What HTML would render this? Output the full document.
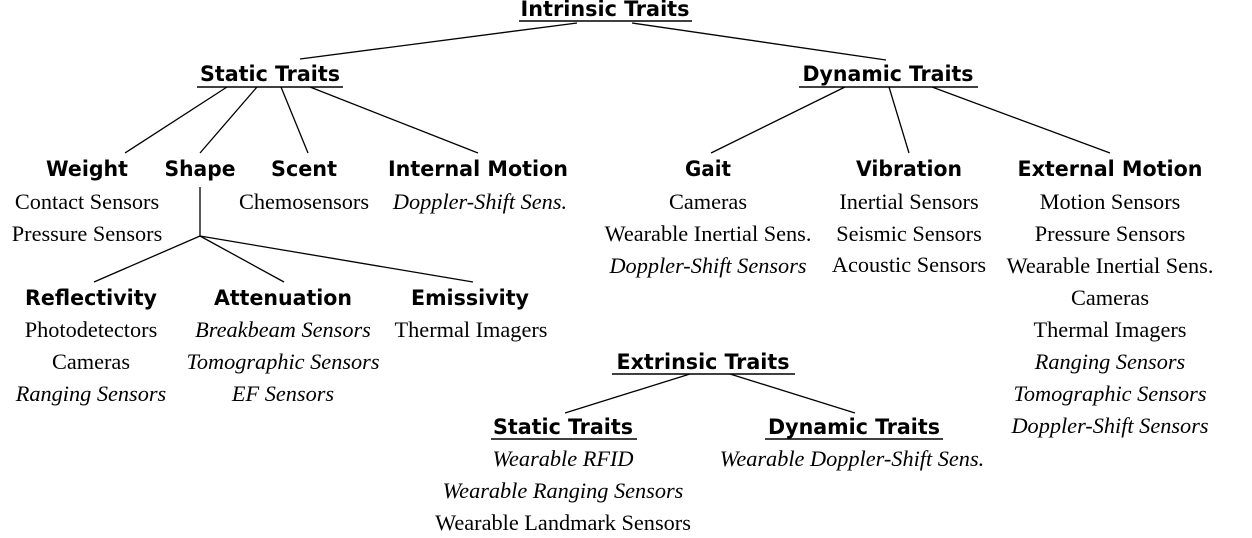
<!DOCTYPE html>
<html><head><meta charset="utf-8"><style>
html,body{margin:0;padding:0;background:#fff;}
svg{display:block;}
.h{font-family:"DejaVu Sans","Liberation Sans",sans-serif;font-weight:bold;font-size:21px;}
.c{font-family:"DejaVu Sans Condensed","DejaVu Sans","Liberation Sans",sans-serif;font-weight:bold;font-size:21px;}
.s{font-family:"Liberation Serif",serif;font-size:22.3px;}
.i{font-style:italic;}
</style></head><body>
<svg width="1252" height="538" viewBox="0 0 1252 538" xmlns="http://www.w3.org/2000/svg">
<g stroke="#000" stroke-width="1.6" fill="none">
<line x1="519" y1="21" x2="692" y2="21"/>
<line x1="197" y1="87" x2="343" y2="87"/>
<line x1="799" y1="87" x2="978" y2="87"/>
<line x1="612" y1="374" x2="795" y2="374"/>
<line x1="491" y1="439" x2="637" y2="439"/>
<line x1="765" y1="439" x2="943" y2="439"/>
</g>
<g stroke="#000" stroke-width="1.3" fill="none">
<line x1="577" y1="23" x2="300" y2="59"/>
<line x1="632" y1="23" x2="886" y2="60"/>
<line x1="227" y1="87" x2="125" y2="153"/>
<line x1="257" y1="87" x2="200" y2="153"/>
<line x1="281" y1="87" x2="308" y2="153"/>
<line x1="310" y1="87" x2="478" y2="153"/>
<line x1="845" y1="87" x2="711" y2="153"/>
<line x1="889" y1="87" x2="909" y2="153"/>
<line x1="932" y1="87" x2="1110" y2="153"/>
<line x1="200" y1="187" x2="200" y2="236"/>
<line x1="200" y1="236" x2="94" y2="282"/>
<line x1="200" y1="236" x2="284" y2="282"/>
<line x1="200" y1="236" x2="473" y2="282"/>
<line x1="690" y1="374" x2="565" y2="413"/>
<line x1="730" y1="374" x2="855" y2="413"/>
</g>
<g text-anchor="middle" fill="#000">
<text class="c" x="605" y="16" textLength="169" lengthAdjust="spacingAndGlyphs">Intrinsic Traits</text>
<text class="c" x="270" y="81" textLength="140" lengthAdjust="spacingAndGlyphs">Static Traits</text>
<text class="c" x="888" y="81" textLength="171" lengthAdjust="spacingAndGlyphs">Dynamic Traits</text>
<text class="c" x="703" y="369" textLength="173" lengthAdjust="spacingAndGlyphs">Extrinsic Traits</text>
<text class="c" x="563" y="434" textLength="140" lengthAdjust="spacingAndGlyphs">Static Traits</text>
<text class="c" x="854" y="434" textLength="172" lengthAdjust="spacingAndGlyphs">Dynamic Traits</text>

<text class="h" x="87" y="176" textLength="82" lengthAdjust="spacingAndGlyphs">Weight</text>
<text class="h" x="200" y="176" textLength="71" lengthAdjust="spacingAndGlyphs">Shape</text>
<text class="h" x="304" y="176" textLength="66" lengthAdjust="spacingAndGlyphs">Scent</text>
<text class="h" x="478" y="176" textLength="180" lengthAdjust="spacingAndGlyphs">Internal Motion</text>
<text class="h" x="708" y="176" textLength="46" lengthAdjust="spacingAndGlyphs">Gait</text>
<text class="h" x="909" y="176" textLength="106" lengthAdjust="spacingAndGlyphs">Vibration</text>
<text class="h" x="1110" y="176" textLength="185" lengthAdjust="spacingAndGlyphs">External Motion</text>
<text class="h" x="91" y="305" textLength="132" lengthAdjust="spacingAndGlyphs">Reflectivity</text>
<text class="h" x="283" y="305" textLength="138" lengthAdjust="spacingAndGlyphs">Attenuation</text>
<text class="h" x="470" y="305" textLength="118" lengthAdjust="spacingAndGlyphs">Emissivity</text>

<text class="s" x="87" y="209">Contact Sensors</text>
<text class="s" x="87" y="241">Pressure Sensors</text>
<text class="s" x="304" y="209">Chemosensors</text>
<text class="s i" x="480" y="209">Doppler-Shift Sens.</text>

<text class="s" x="708" y="209">Cameras</text>
<text class="s" x="708" y="241">Wearable Inertial Sens.</text>
<text class="s i" x="708" y="273">Doppler-Shift Sensors</text>

<text class="s" x="909" y="209">Inertial Sensors</text>
<text class="s" x="909" y="241">Seismic Sensors</text>
<text class="s" x="909" y="272">Acoustic Sensors</text>

<text class="s" x="1110" y="209">Motion Sensors</text>
<text class="s" x="1110" y="241">Pressure Sensors</text>
<text class="s" x="1110" y="273">Wearable Inertial Sens.</text>
<text class="s" x="1110" y="305">Cameras</text>
<text class="s" x="1110" y="337">Thermal Imagers</text>
<text class="s i" x="1110" y="369">Ranging Sensors</text>
<text class="s i" x="1110" y="401">Tomographic Sensors</text>
<text class="s i" x="1110" y="433">Doppler-Shift Sensors</text>

<text class="s" x="91" y="337">Photodetectors</text>
<text class="s" x="91" y="369">Cameras</text>
<text class="s i" x="91" y="401">Ranging Sensors</text>
<text class="s i" x="283" y="337">Breakbeam Sensors</text>
<text class="s i" x="283" y="369">Tomographic Sensors</text>
<text class="s i" x="283" y="401">EF Sensors</text>
<text class="s" x="471" y="337">Thermal Imagers</text>

<text class="s i" x="563" y="466">Wearable RFID</text>
<text class="s i" x="563" y="498">Wearable Ranging Sensors</text>
<text class="s" x="563" y="530">Wearable Landmark Sensors</text>
<text class="s i" x="852" y="466">Wearable Doppler-Shift Sens.</text>
</g>
</svg>
</body></html>
